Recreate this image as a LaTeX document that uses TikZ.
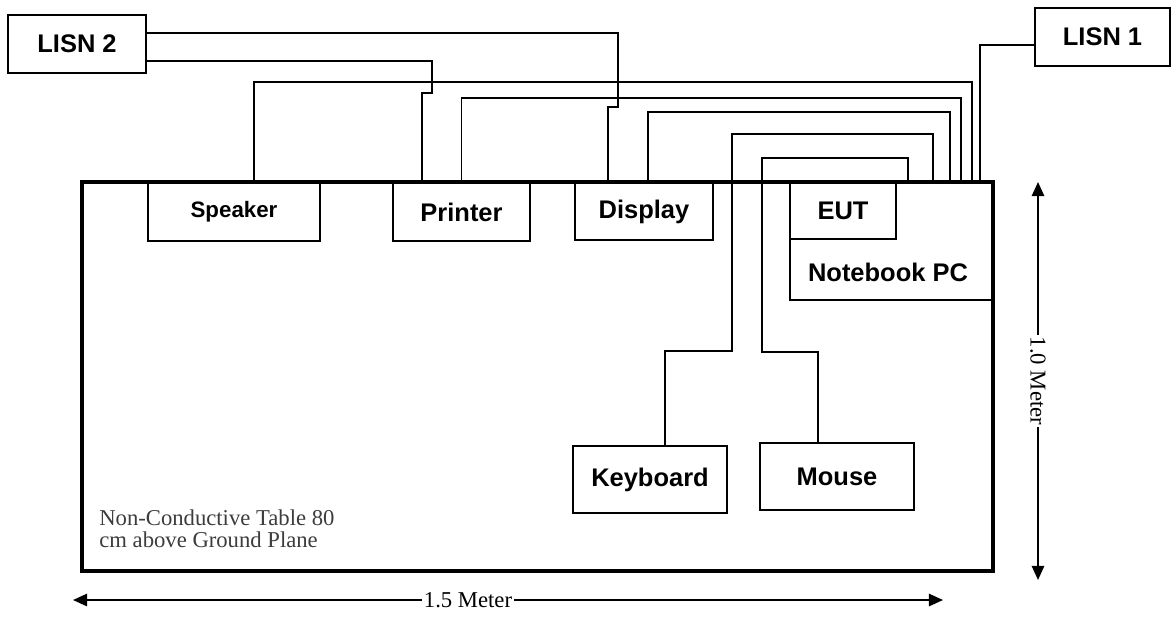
\documentclass[tikz,border=0pt]{standalone}
\usepackage{fontspec}
\setmainfont{Liberation Serif}
\setsansfont{Liberation Sans}
\usepackage{tikz}
\usetikzlibrary{arrows.meta,positioning,calc}
\definecolor{note}{HTML}{3C3C3C}

\begin{document}
\begin{tikzpicture}[x=.02cm,y=-.02cm,>=Latex,
  box/.style={draw,line width=1.2pt,inner sep=0pt,font=\sffamily\bfseries\fontsize{14.5}{17}\selectfont},
  wire/.style={line width=1.1pt},
  dim/.style={line width=1.1pt,{Triangle[length=8pt,width=7pt]}-{Triangle[length=8pt,width=7pt]}},
  meter/.style={fill=white,inner sep=1pt,font=\fontsize{12.9}{13}\selectfont}]
\useasboundingbox (0,0) rectangle (1175,616);
% table and equipment
\node[draw,line width=2pt,minimum width=18.22cm,minimum height=7.78cm] (table) at (537.5,376.5) {};
\node[box,minimum width=2.76cm,minimum height=1.16cm] (lisn2) at (77,44) {LISN 2};
\node[box,minimum width=2.70cm,minimum height=1.16cm] (lisn1) at (1102.5,37) {LISN 1};
\node[box,minimum width=3.44cm,minimum height=1.16cm,font=\sffamily\bfseries\fontsize{12.7}{15}\selectfont] (spk) at (234,212) {Speaker};
\node[box,minimum width=2.74cm,minimum height=1.16cm] (prn) at (461.5,212) {Printer};
\node[box,minimum width=2.76cm,minimum height=1.14cm] (disp) at (644,211.5) {Display};
\node[box,minimum width=4.06cm,minimum height=2.34cm] (pc) at (891.5,241.5) {};
\node[box,minimum width=2.12cm,minimum height=1.12cm] (eut) at (843,211) {EUT};
\node[font=\sffamily\bfseries\fontsize{14.5}{17}\selectfont] (pctext) at (888,272) {Notebook PC};
\node[box,minimum width=3.08cm,minimum height=1.34cm] (kbd) at (650,479.5) {Keyboard};
\node[box,minimum width=3.08cm,minimum height=1.34cm] (mouse) at (837,476.5) {Mouse};
\node[anchor=north west,align=left,inner sep=0pt,text=note,font=\fontsize{12.9}{12.5}\selectfont] (tabletext) at (99,509) {Non-Conductive Table 80\\cm above Ground Plane};
% cables
\draw[wire] ($(lisn2.east)+(0,-11)$) -| (618,107) -| ($(disp.north)+(-36,0)$);
\draw[wire] ($(lisn2.east)+(0,17)$) -| (432,93) -| ($(prn.north)+(-39.5,0)$);
\draw[wire] ($(spk.north)+(20,0)$) -- ++(0,-100) -| ($(pc.north)+(80.5,0)$);
\draw[wire] (prn.north) -- ++(0,-84) -| ($(pc.north)+(69.5,0)$);
\draw[wire] ($(disp.north)+(4,0)$) -- ++(0,-70) -| ($(pc.north)+(58.5,0)$);
\draw[wire] ($(kbd.north)+(15,0)$) -- ++(0,-94) -- ++(67,0) -- ++(0,-217) -| ($(pc.north)+(41.5,0)$);
\draw[wire] ($(mouse.north)+(-19,0)$) -- ++(0,-90) -- ++(-56,0) -- ++(0,-194) -| ($(pc.north)+(16.5,0)$);
\draw[wire] ($(lisn1.west)+(0,8)$) -| ($(pc.north)+(88.5,0)$);
% dimensions
\coordinate (wl) at (73,600);
\coordinate (wr) at (943,600);
\draw[dim] (wl) -- (wr) node[meter,pos=.454] {1.5 Meter};
\coordinate (ht) at (1038,182);
\coordinate (hb) at (1038,580);
\draw[dim] (ht) -- (hb) node[meter,midway,rotate=-90] {1.0 Meter};
\end{tikzpicture}
\end{document}
